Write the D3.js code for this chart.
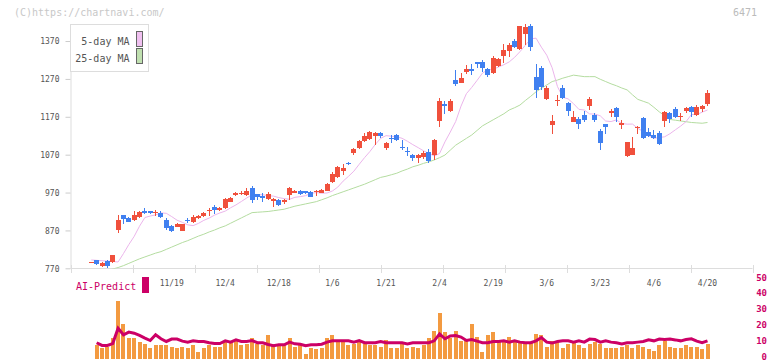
<!DOCTYPE html>
<html>
<head>
<meta charset="utf-8">
<script src="https://cdnjs.cloudflare.com/ajax/libs/d3/7.8.5/d3.min.js"></script>
<style>
body { margin: 0; background: #fff; }
svg { display: block; font-family: "DejaVu Sans Mono", "Liberation Mono", monospace; }
</style>
</head>
<body>
<svg width="772" height="361"></svg>
<script>
// daily candles, one slot per trading day
const open = [785,792,777,790,786,871,911,903,897,905,
    921,920,917,915,898,883,880,869,898,893,
    902,908,922,931,924,928,946,963,965,963,
    983,966,962,953,948,950,945,963,970,974,
    973,972,971,970,975,999,1010,1028,1049,1075,
    1087,1107,1111,1118,1126,1088,1115,1122,1091,1080,
    1069,1060,1065,1076,1069,1160,1203,1186,1267,1260,
    1287,1295,1314,1315,1296,1286,1304,1331,1345,1370,
    1349,1389,1410,1276,1300,1217,1148,1211,1245,1207,
    1157,1164,1175,1199,1175,1133,1151,1180,1193,1148,
    1067,1069,1140,1168,1129,1122,1127,1159,1179,1191,
    1169,1186,1195,1175,1191,1204];
const close = [786,781,785,776,805,897,900,893,911,919,
    917,915,919,906,876,869,887,886,895,906,
    909,917,925,924,930,953,955,970,970,973,
    950,959,955,966,953,937,950,981,975,966,
    968,959,973,978,993,1019,1038,1036,1046,1084,
    1107,1119,1129,1126,1120,1100,1111,1109,1087,1076,
    1060,1069,1075,1053,1109,1213,1199,1213,1257,1273,
    1296,1292,1309,1300,1280,1326,1323,1346,1360,1355,
    1410,1408,1355,1241,1249,1245,1159,1214,1219,1186,
    1170,1151,1162,1217,1162,1102,1144,1184,1170,1153,
    1103,1088,1142,1113,1120,1113,1098,1183,1164,1170,
    1171,1192,1183,1195,1199,1234];
const high = [787,793,786,791,806,912,912,905,921,920,
    930,921,924,921,904,885,889,888,903,910,
    911,918,929,937,932,955,957,971,974,981,
    986,967,968,972,955,952,953,984,977,976,
    975,974,976,979,994,1025,1040,1045,1051,1088,
    1109,1126,1132,1130,1130,1103,1121,1124,1108,1091,
    1071,1073,1079,1085,1111,1219,1213,1217,1294,1286,
    1307,1309,1315,1320,1300,1331,1325,1361,1364,1375,
    1411,1415,1415,1309,1304,1252,1175,1227,1254,1209,
    1184,1170,1185,1221,1179,1137,1152,1190,1197,1162,
    1104,1117,1146,1170,1141,1135,1132,1184,1183,1195,
    1180,1195,1198,1201,1201,1241];
const low = [784,779,774,770,784,862,887,891,895,902,
    914,913,908,903,872,866,878,868,889,890,
    900,906,908,914,922,926,944,961,963,960,
    943,951,946,950,931,935,940,950,968,964,
    966,957,962,968,973,994,1008,1017,1042,1069,
    1085,1104,1109,1096,1113,1082,1102,1106,1082,1067,
    1054,1049,1058,1049,1056,1144,1178,1183,1252,1258,
    1283,1280,1298,1287,1276,1284,1302,1313,1329,1352,
    1346,1360,1344,1219,1241,1215,1125,1199,1217,1172,
    1156,1138,1157,1188,1157,1082,1125,1170,1157,1139,
    1065,1068,1125,1112,1117,1111,1096,1144,1154,1168,
    1158,1179,1169,1173,1183,1199];

// moving averages as drawn
const ma5 = [792,791,790,789,788,786.6,808.8,832.6,854.2,881.2,
    904,908,911,916.2,915.2,906.6,897,891.4,884.8,882.6,
    888.6,896.6,902.6,910.4,916.2,921,929.8,937.4,946.4,955.6,
    964.2,963.6,964.4,961.4,960.6,956.6,954,952.2,957.4,959.2,
    961.8,968,969.8,968.2,968.8,974.2,984.4,1000.2,1012.8,1026.4,
    1044.6,1062.2,1078.4,1097,1113,1120.2,1118.8,1117.2,1113.2,1105.4,
    1096.6,1088.6,1080.2,1073.4,1066.6,1073.2,1103.8,1129.8,1157.4,1198.2,
    1231,1247.6,1266.2,1285.4,1294,1295.4,1301.4,1307.6,1315,1327,
    1342,1358.8,1375.8,1377.6,1353.8,1332.6,1299.6,1249.8,1221.6,1217.2,
    1204.6,1189.6,1188,1177.6,1177.2,1172.4,1158.8,1157.4,1161.8,1152.4,
    1150.6,1150.8,1139.6,1131.2,1119.8,1113.2,1115.2,1117.2,1125.4,1135.6,
    1145.6,1157.2,1176,1176,1182.2,1188];
const ma25 = [752,756,760,764,768,772,777,783,789,795,
    800,805,810,814,820,826,832,838,843,849,
    855,860,866,871,877,882,889,896,903,910,
    917,918,919,920,922,924,926,930,934,937,
    940,943,946,951,956,962,967,972,977,982,
    987,992,998,1004,1010,1013,1017,1021,1027,1032,
    1038,1042,1047,1051,1056,1062,1069,1082,1095,1104,
    1113,1122,1134,1146,1154,1162,1170,1178,1188,1194,
    1201,1213,1224,1236,1245,1254,1263,1267,1272,1276,
    1280,1278,1276,1276,1276,1269,1263,1257,1252,1246,
    1241,1228,1216,1211,1206,1195,1183,1173,1163,1161,
    1159,1157,1155,1154,1153,1155];

// volume panel (no bar on the first slot)
const volume = [null,8.2,6.9,7.5,13.2,36.3,21.4,12.6,13.2,10.1,
    9.4,6.9,8.8,8.2,8.8,7.5,6.9,7.5,6.9,8.2,
    4.4,6.9,8.8,7.5,7.5,10.7,10.1,11.3,8.8,9.4,
    13.2,9.4,8.8,14.5,9.4,8.5,8.8,13.2,7.5,8.8,
    3.1,6.3,5.7,6.3,12.6,14.5,11.3,11.3,8.8,9.4,
    10.1,9.4,8.2,8.2,7.5,11.9,6.9,6.3,9.4,6.3,
    7.5,6.9,8.8,13.2,17.0,28.9,16.4,13.2,17.0,10.7,
    11.9,22.0,13.8,4.4,14.5,16.4,10.7,11.9,13.8,11.9,
    11.3,10.1,10.1,15.7,14.5,7.5,11.3,10.1,6.9,9.4,
    10.7,8.8,6.3,9.4,10.1,9.4,6.3,6.3,6.9,7.5,
    8.8,6.9,8.2,7.5,5.7,5.0,8.8,11.3,7.5,6.3,
    6.3,8.2,7.5,7.5,5.7,9.4];
const aiPredict = [null,9.9,8.2,8.2,9.4,19,14.9,16.6,15.9,14.5,
    12.8,11.3,14.9,12.4,10.7,12.2,12.2,10.9,10.3,11.1,
    10.7,10.7,9.9,9.4,9.4,11.1,10.3,11.7,10.7,10.7,
    11.3,9.9,9.9,8.8,8.0,8.6,8.6,10.3,9.2,9.0,
    8.0,8.6,8.6,9.0,10.3,11.1,11.1,11.1,11.1,10.3,
    11.3,9.9,9.9,9.9,10.7,9.9,9.9,9.9,9.9,9.2,
    9.9,9.9,9.9,9.9,11.1,15.5,12.4,14.2,14.5,13.5,
    11.3,11.9,10.9,9.9,9.9,10.7,10.7,11.1,10.3,11.1,
    10.3,9.9,9.9,11.1,13.2,10.3,9.7,10.7,11.1,11.1,
    10.3,11.1,10.3,12.2,11.9,10.3,11.1,10.3,9.9,9.2,
    9.9,9.9,10.3,10.7,11.7,11.1,12.2,11.9,12.2,11.7,
    11.1,11.9,12.4,10.9,9.9,11.1];

const tickLabels = ["11/19","12/4","12/18","1/6","1/21","2/4","2/19","3/6","3/23","4/6","4/20"];
const tickIndex = [15,25,35,45,55,65,75,85,95,105,115];
const priceTicks = [770,870,970,1070,1170,1270,1370];
const volTicks = [0,10,20,30,40,50];

const UP = "#f0503c", DOWN = "#4080f0", AI = "#cc0066";

const svg = d3.select("svg");
const x = d3.scaleLinear().domain([0, 115]).range([91.3, 707.5]);
const y = d3.scaleLinear().domain([770, 1415]).range([268.3, 24]);
const yv = d3.scaleLinear().domain([0, 50]).range([358.5, 279]);
const xg = d3.scaleLinear().domain([0, 11]).range([70.5, 752.5]);

svg.append("text").attr("x", 14).attr("y", 16)
    .attr("font-size", 10).attr("fill", "#c8c8c8").text("(C)https://chartnavi.com/");
svg.append("text").attr("x", 757).attr("y", 16).attr("text-anchor", "end")
    .attr("font-size", 10).attr("fill", "#bbb").text("6471");

// price axis
const yAxis = svg.append("g").attr("transform", "translate(70.5,0)")
    .call(d3.axisLeft(y).tickValues(priceTicks).tickFormat(d3.format("d"))
        .tickSize(5).tickSizeOuter(0).tickPadding(6));
yAxis.select(".domain").attr("stroke", "#ddd");
yAxis.selectAll(".tick line").attr("stroke", "#ccc");
yAxis.selectAll(".tick text").attr("font-family", "DejaVu Sans Mono, monospace")
    .attr("font-size", 8).attr("fill", "#555").attr("dy", "0.36em");

// bottom axis line + segment ticks
svg.append("line").attr("x1", 70.5).attr("x2", 752.5).attr("y1", 268.5).attr("y2", 268.5)
    .attr("stroke", "#ddd");
svg.selectAll("line.seg").data(d3.range(12)).enter().append("line")
    .attr("x1", d => Math.round(xg(d)) + 0.5).attr("x2", d => Math.round(xg(d)) + 0.5)
    .attr("y1", 265).attr("y2", 273).attr("stroke", "#ddd");

svg.selectAll("text.date").data(tickLabels).enter().append("text")
    .attr("x", (d, i) => x(tickIndex[i])).attr("y", 286)
    .attr("text-anchor", "middle").attr("font-size", 8).attr("fill", "#555")
    .text(d => d);

svg.append("clipPath").attr("id", "plot").append("rect")
    .attr("x", 71).attr("y", 20).attr("width", 682).attr("height", 248.5);
const plot = svg.append("g").attr("clip-path", "url(#plot)");

const idx = d3.range(open.length);

const line = d3.line().x((d, i) => x(i)).y(d => y(d));
plot.append("path").attr("d", line(ma25)).attr("fill", "none")
    .attr("stroke", "#b4dca0").attr("stroke-width", 1);
plot.append("path").attr("d", line(ma5)).attr("fill", "none")
    .attr("stroke", "#ebb5eb").attr("stroke-width", 1);

const candles = plot.selectAll("g.c").data(idx).enter().append("g")
    .attr("shape-rendering", "crispEdges")
    .attr("fill", i => close[i] >= open[i] ? UP : DOWN);
candles.append("rect")
    .attr("x", i => Math.round(x(i) - 2.5) + 2).attr("width", 1)
    .attr("y", i => y(high[i])).attr("height", i => Math.max(1, y(low[i]) - y(high[i])));
candles.append("rect")
    .attr("x", i => Math.round(x(i) - 2.5)).attr("width", 5)
    .attr("y", i => y(Math.max(open[i], close[i])))
    .attr("height", i => Math.max(1, Math.abs(y(open[i]) - y(close[i]))));

// legend
svg.append("rect").attr("x", 70.5).attr("y", 24.5).attr("width", 78).attr("height", 47)
    .attr("fill", "#fff").attr("stroke", "#ddd");
const legend = [["5-day MA", "#f0c0f0"], ["25-day MA", "#c0e0b0"]];
legend.forEach((d, i) => {
    svg.append("text").attr("x", 129.5).attr("y", 44.5 + i * 17).attr("text-anchor", "end")
        .attr("font-size", 10).attr("fill", "#555").text(d[0]);
    svg.append("rect").attr("x", 136.5).attr("y", 31.5 + i * 17).attr("width", 6).attr("height", 15)
        .attr("fill", d[1]).attr("stroke", "#666");
});

// volume panel
svg.append("text").attr("x", 76).attr("y", 290).attr("font-size", 10)
    .attr("fill", AI).text("AI-Predict");
svg.append("rect").attr("x", 142).attr("y", 277).attr("width", 7).attr("height", 16).attr("fill", AI);

svg.selectAll("text.vt").data(volTicks).enter().append("text")
    .attr("x", 767).attr("y", d => yv(d) + 1.5).attr("text-anchor", "end")
    .attr("font-size", 9).attr("font-weight", "bold").attr("fill", AI).text(d => d);

svg.append("g").attr("shape-rendering", "crispEdges")
    .selectAll("rect").data(idx.filter(i => volume[i] != null)).enter().append("rect")
    .attr("x", i => Math.round(x(i) - 2)).attr("width", 4)
    .attr("y", i => yv(volume[i])).attr("height", i => yv(0) - yv(volume[i]))
    .attr("fill", "#f39a40");

const aiLine = d3.line().defined(d => d != null).x((d, i) => x(i)).y(d => yv(d));
svg.append("path").attr("d", aiLine(aiPredict)).attr("fill", "none")
    .attr("stroke", AI).attr("stroke-width", 3).attr("stroke-linejoin", "miter");
</script>
</body>
</html>
